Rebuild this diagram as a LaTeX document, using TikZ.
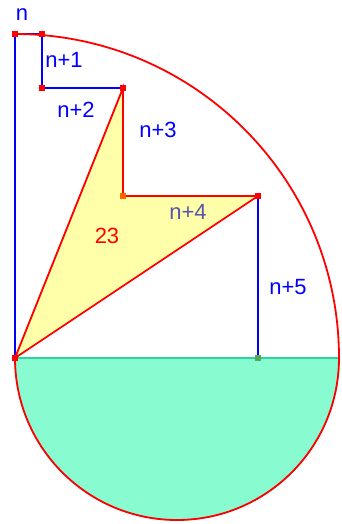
\documentclass[tikz,border=0pt]{standalone}
\usepackage{fontspec}
\setmainfont{Liberation Sans}
\definecolor{myred}{RGB}{255,0,0}
\definecolor{myblue}{RGB}{0,0,255}
\definecolor{myyellow}{RGB}{255,255,170}
\definecolor{mygreen}{RGB}{136,252,208}
\definecolor{myteal}{RGB}{40,215,160}
\definecolor{myslate}{RGB}{85,85,170}
\begin{document}
\begin{tikzpicture}[x=27pt,y=27pt,
  blueline/.style={myblue,line width=1.8pt},
  redline/.style={myred,line width=1.8pt},
  pt/.style={fill=myred,inner sep=0pt,minimum size=5.5pt,draw=none,rectangle},
  lbl/.style={font=\fontsize{22}{24}\selectfont,inner sep=1pt}]
\useasboundingbox (-15pt,-166pt) rectangle (327pt,358pt);
% points
\coordinate (O) at (0,0);
\coordinate (A) at (0,12);
\coordinate (B) at (1,12);
\coordinate (C) at (1,10);
\coordinate (D) at (4,10);
\coordinate (E) at (4,6);
\coordinate (F) at (9,6);
\coordinate (G) at (9,0);
\coordinate (R) at (12,0);
% green half disc
\fill[mygreen,draw=myteal,line width=1pt] (O) arc[start angle=180,end angle=360,radius=6] -- cycle;
\draw[myteal,line width=2.5pt] (O) -- (R);
% yellow polygon
\fill[myyellow] (O) -- (D) -- (E) -- (F) -- cycle;
% blue lines
\draw[blueline] (O) -- (A) -- (B) -- (C) -- (D);
\draw[blueline] (F) -- (G);
% red lines
\draw[redline] (O) -- (D) -- (E) -- (F) -- cycle;
\draw[redline] (A) arc[start angle=90,end angle=0,radius=12];
\draw[redline] (O) arc[start angle=180,end angle=360,radius=6];
% markers
\node[pt] (pA) at (A) {};
\node[pt] (pB) at (B) {};
\node[pt] (pC) at (C) {};
\node[pt] (pD) at (D) {};
\node[pt,fill=orange!80!red] (pE) at (E) {};
\node[pt] (pF) at (F) {};
\node[pt,fill=gray!70!green] (pG) at (G) {};
\node[pt] (pO) at (O) {};
% labels
\node[lbl,myblue] (ln) at (7pt,343pt) {n};
\node[lbl,myblue] (l1) at (49pt,298pt) {n+1};
\node[lbl,myblue] (l2) at (61pt,248pt) {n+2};
\node[lbl,myblue] (l3) at (143pt,228pt) {n+3};
\node[lbl,myslate] (l4) at (173pt,146pt) {n+4};
\node[lbl,myblue] (l5) at (273pt,71pt) {n+5};
\node[lbl,myred] (l23) at (92pt,122pt) {23};
\end{tikzpicture}
\end{document}
